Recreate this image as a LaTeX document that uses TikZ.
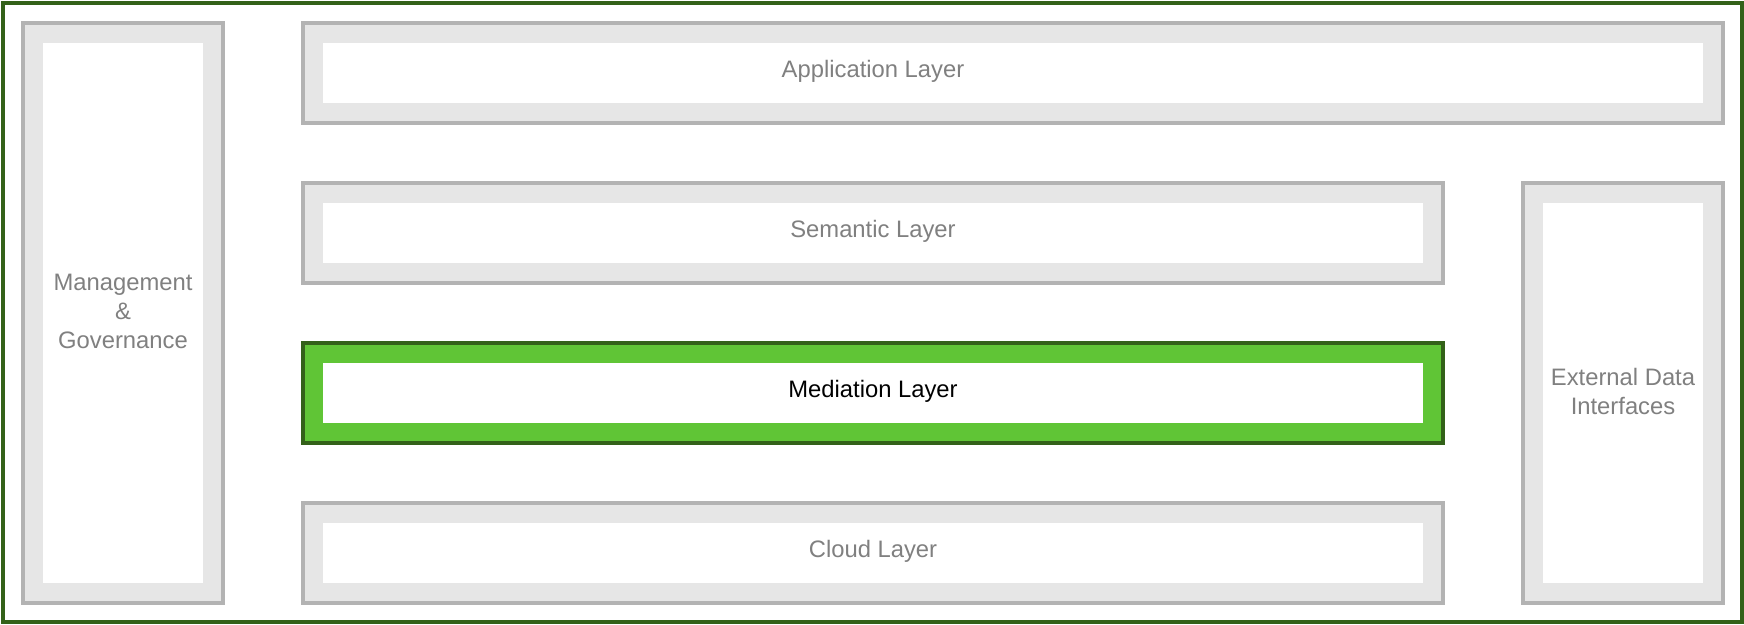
\documentclass[tikz,border=0pt]{standalone}
\usepackage{fontspec}
\setmainfont{Liberation Sans}
\definecolor{boxgray}{HTML}{B3B3B3}
\definecolor{boxfill}{HTML}{E6E6E6}
\definecolor{txtgray}{HTML}{808080}
\definecolor{dkgreen}{HTML}{336119}
\definecolor{ltgreen}{HTML}{60C536}
\tikzset{
  layerbox/.style={draw=boxgray, fill=boxfill, line width=4pt, rectangle, inner sep=0pt, outer sep=0pt,
    path picture={\fill[white] ([shift={(20pt,-20pt)}]path picture bounding box.north west) rectangle ([shift={(-20pt,20pt)}]path picture bounding box.south east);}},
  greenbox/.style={layerbox, draw=dkgreen, fill=ltgreen},
  labeltext/.style={font=\fontsize{23.8}{29}\selectfont, text=txtgray, inner sep=0pt, align=center, yshift=1.3pt}
}
\begin{document}
\begin{tikzpicture}[x=1pt,y=-1pt]
\useasboundingbox (0,0) rectangle (1744,624);
\draw[dkgreen, line width=4pt] (3,3) rectangle (1741.5,621.5);
\node[layerbox, minimum width=200pt, minimum height=580pt] (mgmt) at (123,313) {};
\node[labeltext] (mgmttext) at (mgmt.center) {Management\\\&\\Governance};
\node[layerbox, minimum width=1420pt, minimum height=100pt] (app) at (1013,73) {};
\node[labeltext] (apptext) at (873,73) {Application Layer};
\node[layerbox, minimum width=1140pt, minimum height=100pt] (sem) at (873,233) {};
\node[labeltext] (semtext) at (sem.center) {Semantic Layer};
\node[greenbox, minimum width=1140pt, minimum height=100pt] (med) at (873,393) {};
\node[labeltext, text=black] (medtext) at (med.center) {Mediation Layer};
\node[layerbox, minimum width=1140pt, minimum height=100pt] (cloud) at (873,553) {};
\node[labeltext] (cloudtext) at (cloud.center) {Cloud Layer};
\node[layerbox, minimum width=200pt, minimum height=420pt] (ext) at (1623,393) {};
\node[labeltext] (exttext) at (ext.center) {External Data\\Interfaces};
\end{tikzpicture}
\end{document}
